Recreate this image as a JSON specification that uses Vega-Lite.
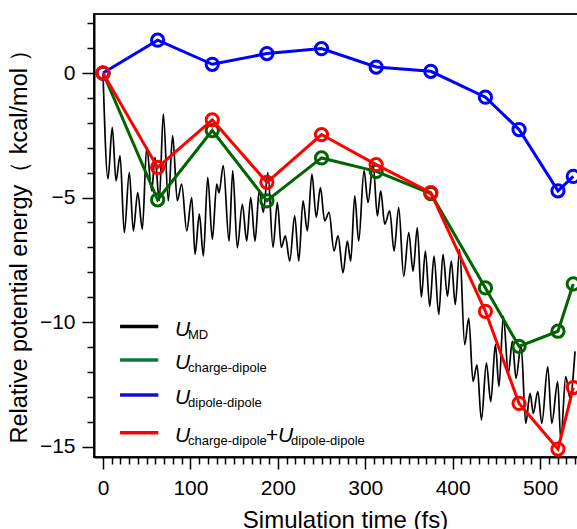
{
  "$schema": "https://vega.github.io/schema/vega-lite/v6.json",
  "width": 502,
  "height": 443,
  "autosize": "none",
  "padding": {"left": 94, "top": 14, "right": 0, "bottom": 72},
  "background": "white",
  "resolve": {"axis": {"x": "independent", "y": "independent"}},
  "config": {
    "font": "Liberation Sans",
    "view": {"stroke": "#1a1a1a", "strokeWidth": 2},
    "axis": {"labelFont": "Liberation Sans", "titleFont": "Liberation Sans", "titleFontWeight": "normal", "labelColor": "black", "titleColor": "black", "tickColor": "black", "domainColor": "black", "grid": false, "labelOverlap": false, "labelFlush": false},
    "text": {"font": "Liberation Sans", "color": "black"}
  },
  "datasets": {
    "md": [
      {"t":0,"e":0},{"t":5.7,"e":-4.25},{"t":10.6,"e":-2.18},{"t":14.9,"e":-4.33},{"t":19.5,"e":-3.32},{"t":24.4,"e":-6.41},{"t":30.1,"e":-3.99},{"t":34.7,"e":-6.34},{"t":39.7,"e":-4.8},{"t":45,"e":-6.27},{"t":50,"e":-2.98},{"t":55.7,"e":-4.73},{"t":59.5,"e":-3.39},{"t":64.4,"e":-5.13},{"t":69,"e":-1.64},{"t":74.7,"e":-5.13},{"t":79.7,"e":-2.51},{"t":85,"e":-5.13},{"t":90,"e":-4.46},{"t":95.8,"e":-6.34},{"t":101.5,"e":-5.0},{"t":105.3,"e":-7.28},{"t":110.2,"e":-5.67},{"t":114.8,"e":-7.35},{"t":119.8,"e":-4.19},{"t":125.1,"e":-6.68},{"t":130.1,"e":-4.46},{"t":132.7,"e":-4.81},{"t":137.6,"e":-3.72},{"t":144.2,"e":-6.75},{"t":148.4,"e":-3.92},{"t":153.7,"e":-7.02},{"t":159.4,"e":-5.27},{"t":164.4,"e":-6.75},{"t":169,"e":-5.0},{"t":173.9,"e":-6.75},{"t":178.8,"e":-4.7},{"t":183.4,"e":-5.6},{"t":188.6,"e":-4.0},{"t":194.5,"e":-7.0},{"t":199.5,"e":-5.2},{"t":204,"e":-7.0},{"t":208.6,"e":-6.54},{"t":213.6,"e":-7.55},{"t":219.3,"e":-5.74},{"t":224,"e":-7.55},{"t":228.8,"e":-5.13},{"t":233.8,"e":-6.34},{"t":239,"e":-4.06},{"t":244,"e":-5.8},{"t":248.7,"e":-4.6},{"t":253.6,"e":-5.94},{"t":258.6,"e":-5.6},{"t":264.3,"e":-7.15},{"t":268.9,"e":-6.54},{"t":274.6,"e":-8.02},{"t":279.5,"e":-6.75},{"t":283.4,"e":-7.55},{"t":288,"e":-4.93},{"t":292.5,"e":-6.75},{"t":298.6,"e":-3.92},{"t":303.2,"e":-5.2},{"t":309,"e":-3.65},{"t":313.9,"e":-5.74},{"t":317.7,"e":-4.73},{"t":322.3,"e":-6.07},{"t":328,"e":-5.54},{"t":333,"e":-7.15},{"t":338.3,"e":-5.4},{"t":344,"e":-8.16},{"t":349.8,"e":-6.41},{"t":354.7,"e":-7.96},{"t":359.6,"e":-6.21},{"t":364.2,"e":-9.0},{"t":368.8,"e":-7.15},{"t":373.8,"e":-9.37},{"t":378.7,"e":-7.35},{"t":384.1,"e":-9.7},{"t":389,"e":-7.28},{"t":394,"e":-8.96},{"t":398.5,"e":-7.55},{"t":403,"e":-9.3},{"t":408,"e":-7.08},{"t":413.8,"e":-10.91},{"t":418.4,"e":-9.84},{"t":423.3,"e":-12.39},{"t":427.9,"e":-11.72},{"t":432.9,"e":-13.94},{"t":438.6,"e":-11.65},{"t":443.6,"e":-13.2},{"t":448.9,"e":-10.91},{"t":453,"e":-12.59},{"t":458,"e":-9.77},{"t":463.7,"e":-12.06},{"t":468.3,"e":-10.78},{"t":472.5,"e":-12.26},{"t":478.3,"e":-10.91},{"t":483.6,"e":-14.07},{"t":488.6,"e":-12.86},{"t":492.3,"e":-13.67},{"t":497.4,"e":-12.79},{"t":502,"e":-14.07},{"t":508.8,"e":-11.79},{"t":513.4,"e":-14.07},{"t":520.2,"e":-12.39},{"t":523.7,"e":-14.74},{"t":529.4,"e":-12.19},{"t":534.3,"e":-13.06},{"t":540,"e":-11.18}
    ],
    "calc": [
      {"t":0,"s":"cd","e":0},{"t":62.5,"s":"cd","e":-5.09},{"t":125,"s":"cd","e":-2.31},{"t":187.5,"s":"cd","e":-5.13},{"t":250,"s":"cd","e":-3.41},{"t":312.5,"s":"cd","e":-3.95},{"t":375,"s":"cd","e":-4.84},{"t":437.5,"s":"cd","e":-8.63},{"t":476,"s":"cd","e":-10.98},{"t":520.5,"s":"cd","e":-10.37},{"t":538,"s":"cd","e":-8.47},
      {"t":0,"s":"dd","e":0},{"t":62.5,"s":"dd","e":1.32},{"t":125,"s":"dd","e":0.35},{"t":187.5,"s":"dd","e":0.78},{"t":250,"s":"dd","e":0.98},{"t":312.5,"s":"dd","e":0.24},{"t":375,"s":"dd","e":0.07},{"t":437.5,"s":"dd","e":-0.97},{"t":476,"s":"dd","e":-2.27},{"t":520.5,"s":"dd","e":-4.73},{"t":538,"s":"dd","e":-4.15},
      {"t":0,"s":"sum","e":0},{"t":62.5,"s":"sum","e":-3.79},{"t":125,"s":"sum","e":-1.88},{"t":187.5,"s":"sum","e":-4.39},{"t":250,"s":"sum","e":-2.47},{"t":312.5,"s":"sum","e":-3.68},{"t":375,"s":"sum","e":-4.8},{"t":437.5,"s":"sum","e":-9.57},{"t":476,"s":"sum","e":-13.27},{"t":520.5,"s":"sum","e":-15.1},{"t":538,"s":"sum","e":-12.63}
    ],
    "one": [{"k": 1}]
  },
  "layer": [
    {"data": {"name": "md"}, "mark": {"type": "line", "color": "black", "strokeWidth": 1.7, "interpolate": "monotone", "clip": true},
      "encoding": {
        "x": {"field": "t", "type": "quantitative", "scale": {"domain": [-10.3, 564], "nice": false, "zero": false},
          "axis": {"title": "Simulation time (fs)", "values": [0,10,20,30,40,50,60,70,80,90,100,110,120,130,140,150,160,170,180,190,200,210,220,230,240,250,260,270,280,290,300,310,320,330,340,350,360,370,380,390,400,410,420,430,440,450,460,470,480,490,500,510,520,530,540,550,560],
            "labelExpr": "datum.value % 100 === 0 ? datum.label : ''", "format": "d",
            "tickSize": {"condition": {"test": "datum.value % 100 === 0", "value": 12}, "value": 7},
            "tickWidth": 1.5, "domainWidth": 2, "labelFontSize": 21, "titleFontSize": 24, "labelPadding": 8, "titlePadding": 10}},
        "y": {"field": "e", "type": "quantitative", "scale": {"domain": [-15.42, 2.37], "nice": false, "zero": false},
          "axis": {"title": "Relative potential energy（ kcal/mol ）", "values": [-15,-14,-13,-12,-11,-10,-9,-8,-7,-6,-5,-4,-3,-2,-1,0,1,2],
            "labelExpr": "datum.value % 5 === 0 ? datum.label : ''", "format": "d",
            "tickSize": {"condition": {"test": "datum.value % 5 === 0", "value": 12}, "value": 7},
            "tickWidth": 1.5, "domainWidth": 2, "labelFontSize": 21, "titleFontSize": 23.5, "labelPadding": 7, "titlePadding": 8, "titleY": 226}}
      }},
    {"data": {"name": "calc"}, "transform": [{"filter": "datum.s === 'cd'"}], "encoding": {"x": {"field": "t", "type": "quantitative", "axis": null}, "y": {"field": "e", "type": "quantitative", "axis": null}}, "mark": {"type": "line", "color": "#006400", "strokeWidth": 3, "clip": true, "point": {"filled": false, "size": 150, "strokeWidth": 3, "color": "#006400"}}},
    {"data": {"name": "calc"}, "transform": [{"filter": "datum.s === 'dd'"}], "encoding": {"x": {"field": "t", "type": "quantitative", "axis": null}, "y": {"field": "e", "type": "quantitative", "axis": null}}, "mark": {"type": "line", "color": "#0000ff", "strokeWidth": 3, "clip": true, "point": {"filled": false, "size": 150, "strokeWidth": 3, "color": "#0000ff"}}},
    {"data": {"name": "calc"}, "transform": [{"filter": "datum.s === 'sum'"}], "encoding": {"x": {"field": "t", "type": "quantitative", "axis": null}, "y": {"field": "e", "type": "quantitative", "axis": null}}, "mark": {"type": "line", "color": "#ff0000", "strokeWidth": 3, "clip": true, "point": {"filled": false, "size": 150, "strokeWidth": 3, "color": "#ff0000"}}},

    {"data": {"name": "one"}, "mark": {"type": "rule", "color": "black", "strokeWidth": 3.5}, "encoding": {"x": {"datum": 19.5, "type": "quantitative", "axis": null}, "x2": {"datum": 63.3}, "y": {"datum": -10.18, "type": "quantitative", "axis": null}}},
    {"data": {"name": "one"}, "mark": {"type": "rule", "color": "#0b7a3a", "strokeWidth": 3.5}, "encoding": {"x": {"datum": 19.5, "type": "quantitative", "axis": null}, "x2": {"datum": 63.3}, "y": {"datum": -11.52, "type": "quantitative", "axis": null}}},
    {"data": {"name": "one"}, "mark": {"type": "rule", "color": "#1010d0", "strokeWidth": 3.5}, "encoding": {"x": {"datum": 19.5, "type": "quantitative", "axis": null}, "x2": {"datum": 63.3}, "y": {"datum": -12.93, "type": "quantitative", "axis": null}}},
    {"data": {"name": "one"}, "mark": {"type": "rule", "color": "#ff0000", "strokeWidth": 3.5}, "encoding": {"x": {"datum": 19.5, "type": "quantitative", "axis": null}, "x2": {"datum": 63.3}, "y": {"datum": -14.45, "type": "quantitative", "axis": null}}},

    {"data": {"name": "one"}, "mark": {"type": "text", "text": "U", "fontStyle": "italic", "fontSize": 21, "align": "left", "baseline": "alphabetic", "dy": 9}, "encoding": {"x": {"datum": 82.4, "type": "quantitative", "axis": null}, "y": {"datum": -10.18, "type": "quantitative", "axis": null}}},
    {"data": {"name": "one"}, "mark": {"type": "text", "text": "MD", "fontSize": 13, "align": "left", "baseline": "alphabetic", "dx": 13, "dy": 12}, "encoding": {"x": {"datum": 82.4, "type": "quantitative", "axis": null}, "y": {"datum": -10.18, "type": "quantitative", "axis": null}}},
    {"data": {"name": "one"}, "mark": {"type": "text", "text": "U", "fontStyle": "italic", "fontSize": 21, "align": "left", "baseline": "alphabetic", "dy": 9}, "encoding": {"x": {"datum": 82.4, "type": "quantitative", "axis": null}, "y": {"datum": -11.52, "type": "quantitative", "axis": null}}},
    {"data": {"name": "one"}, "mark": {"type": "text", "text": "charge-dipole", "fontSize": 13, "align": "left", "baseline": "alphabetic", "dx": 13, "dy": 12}, "encoding": {"x": {"datum": 82.4, "type": "quantitative", "axis": null}, "y": {"datum": -11.52, "type": "quantitative", "axis": null}}},
    {"data": {"name": "one"}, "mark": {"type": "text", "text": "U", "fontStyle": "italic", "fontSize": 21, "align": "left", "baseline": "alphabetic", "dy": 9}, "encoding": {"x": {"datum": 82.4, "type": "quantitative", "axis": null}, "y": {"datum": -12.93, "type": "quantitative", "axis": null}}},
    {"data": {"name": "one"}, "mark": {"type": "text", "text": "dipole-dipole", "fontSize": 13, "align": "left", "baseline": "alphabetic", "dx": 13, "dy": 12}, "encoding": {"x": {"datum": 82.4, "type": "quantitative", "axis": null}, "y": {"datum": -12.93, "type": "quantitative", "axis": null}}},
    {"data": {"name": "one"}, "mark": {"type": "text", "text": "U", "fontStyle": "italic", "fontSize": 21, "align": "left", "baseline": "alphabetic", "dy": 9}, "encoding": {"x": {"datum": 82.4, "type": "quantitative", "axis": null}, "y": {"datum": -14.45, "type": "quantitative", "axis": null}}},
    {"data": {"name": "one"}, "mark": {"type": "text", "text": "charge-dipole", "fontSize": 13, "align": "left", "baseline": "alphabetic", "dx": 13, "dy": 12}, "encoding": {"x": {"datum": 82.4, "type": "quantitative", "axis": null}, "y": {"datum": -14.45, "type": "quantitative", "axis": null}}},
    {"data": {"name": "one"}, "mark": {"type": "text", "text": "+", "fontSize": 21, "align": "left", "baseline": "alphabetic", "dx": 91, "dy": 9}, "encoding": {"x": {"datum": 82.4, "type": "quantitative", "axis": null}, "y": {"datum": -14.45, "type": "quantitative", "axis": null}}},
    {"data": {"name": "one"}, "mark": {"type": "text", "text": "U", "fontStyle": "italic", "fontSize": 21, "align": "left", "baseline": "alphabetic", "dx": 103, "dy": 9}, "encoding": {"x": {"datum": 82.4, "type": "quantitative", "axis": null}, "y": {"datum": -14.45, "type": "quantitative", "axis": null}}},
    {"data": {"name": "one"}, "mark": {"type": "text", "text": "dipole-dipole", "fontSize": 13, "align": "left", "baseline": "alphabetic", "dx": 116, "dy": 12}, "encoding": {"x": {"datum": 82.4, "type": "quantitative", "axis": null}, "y": {"datum": -14.45, "type": "quantitative", "axis": null}}}
  ]
}
